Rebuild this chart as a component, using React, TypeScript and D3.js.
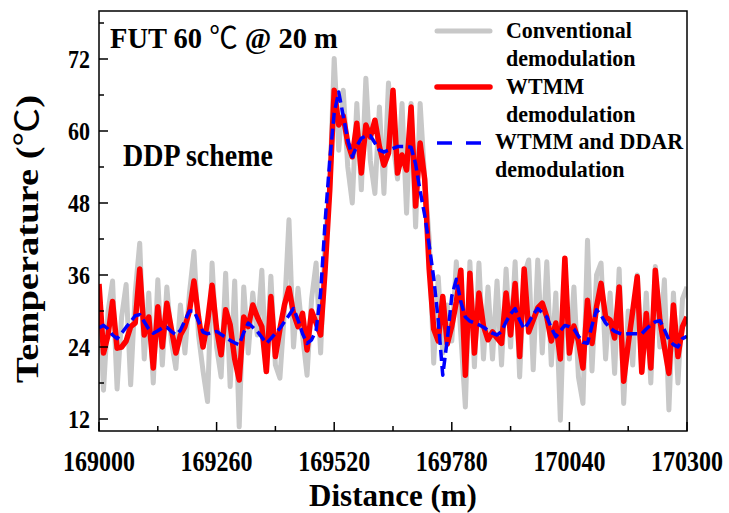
import React from 'react';
import * as d3 from 'd3';

// sampling grid of the distributed sensor trace
const distanceStart = 169000;
const distanceStep = 10;

// conventional demodulation (grey)
const conventional = [
  33, 16.8, 30, 35, 17, 29, 34.4, 17.7, 33, 41.3,
  22, 33, 18, 35.2, 21, 34, 25, 20.4, 31, 23,
  33, 39.9, 26, 20, 14.9, 38, 24, 19, 36.3, 17.4,
  35, 10.7, 34, 23, 33, 26, 36.8, 19.9, 35.8, 21,
  18.8, 30, 45.2, 24, 33.8, 26, 19.3, 32, 38, 23,
  42, 50, 72.1, 56.8, 66.8, 54, 48, 64.6, 50.2, 68.8,
  55, 49.6, 64, 49.6, 68, 58, 52, 64.6, 46.3, 64.6,
  44, 64.6, 52, 42, 21.3, 35.7, 23, 31, 25, 38.2,
  26, 14, 38.2, 20.7, 38, 22, 34, 22, 35, 21,
  37, 24, 38.2, 19, 36, 38.5, 20.2, 38.5, 23, 38.2,
  21, 33, 11.8, 36, 22, 34, 19, 14.6, 41.8, 20,
  36, 38, 22, 33, 19.6, 37, 14.6, 30, 21, 36,
  20, 33, 18, 37.4, 24, 35.2, 13.5, 33, 18, 32, 34,
];

// WTMM demodulation (red)
const wtmm = [
  34.5, 23, 26, 31.6, 23.8, 24, 25, 27.4, 28, 37,
  26, 29, 20.5, 30.7, 24, 31.3, 27, 23, 26, 27.4,
  30, 35, 29, 24, 28.2, 34.3, 27, 22.7, 30.2, 27.7,
  22, 18.5, 29, 27.4, 31, 29, 27.4, 19.9, 32.4, 22.4,
  27, 31, 33.8, 29.6, 27.4, 29.6, 23.5, 30, 28, 26,
  37, 50, 66.8, 61, 62.5, 58, 55.7, 61.3, 53, 61,
  59, 61.8, 57.4, 54.3, 56.3, 66.8, 53, 56, 53.5, 64,
  47.5, 58, 52, 37, 27, 25, 32.4, 24.5, 27.5, 31.5,
  36.8, 19.3, 36.3, 23, 33, 27.5, 25.2, 26.5, 25.5, 24.6,
  33, 26, 34.6, 22.4, 37, 26.5, 28.5, 30.5, 31.3, 29,
  25, 28, 22, 38.8, 23, 27.5, 25, 20.5, 31.8, 24.6,
  30.7, 34.6, 29, 28.5, 25.5, 34, 18.3, 24.5, 30, 35.7,
  19.8, 29.6, 20.5, 36.8, 28.5, 24, 19.6, 31, 22.4, 27.4, 29,
];

// WTMM and DDAR demodulation (blue dashed)
const wtmmDdar = [
  27.2, 27.6, 27, 26, 25.4, 26.3, 27.3, 28.2, 29.2, 29.4,
  28.2, 27, 26.3, 26.7, 27.2, 27.3, 26.6, 26, 26.8, 28.4,
  30, 30, 28.3, 26.5, 26.2, 26.4, 26.6, 26.1, 25.6, 25.1,
  24.7, 24.4, 26.4, 28, 27.3, 26.6, 25.6, 24.6, 25.4, 26.3,
  27.1, 28.2, 29.3, 30.4, 28.5, 26.2, 24.6, 25.2, 26.8, 33,
  45, 55, 63, 66.5, 62.5, 58.5, 55.7, 57.5, 58.8, 59.2,
  59.2, 58, 56.8, 56.5, 56.8, 57.1, 57.4, 57.4, 57.4, 57.3,
  54.5, 50, 46, 41, 35.5, 28.5, 19.3, 25.2, 32.5, 35.3,
  31.5, 29, 28.3, 28, 27.7, 27.3, 26.8, 26.3, 26, 26.6,
  28.2, 29.5, 30.4, 28.5, 27, 28.1, 29.4, 30.4, 29.7, 29,
  27.2, 25.7, 26.7, 27.6, 27.4, 27, 25.8, 24.8, 24.6, 27.6,
  30.2, 29.3, 28, 27.2, 26.6, 26.3, 26.1, 26.2, 26.2, 26.2,
  26.2, 27, 27.7, 28.2, 28.4, 26.9, 25.2, 24.4, 24, 25.4, 25.8,
];

const xMajorTicks = [169000, 169260, 169520, 169780, 170040, 170300];
const xMinorTicks = [169130, 169390, 169650, 169910, 170170];
const yMajorTicks = [12, 24, 36, 48, 60, 72];
const yMinorTicks = [18, 30, 42, 54, 66, 78];

const serif = "'Liberation Serif', 'Times New Roman', Times, serif";
const degFont = "'Noto Sans CJK SC', 'DejaVu Sans', sans-serif";

// the original figure's lettering is a little taller than it is wide
const stretch = (x: number, y: number, k = 1.2) => `translate(${x},${y}) scale(1,${k})`;

export default function App() {
  const left = 99, right = 687, top = 11, bottom = 431;

  const x = d3.scaleLinear().domain([169000, 170300]).range([left, right]);
  const y = d3.scaleLinear().domain([10, 80]).range([bottom, top]);

  const line = d3.line<number>()
    .x((_, i) => x(distanceStart + i * distanceStep))
    .y(d => y(d));

  return (
    <svg width={729} height={513} style={{ position: 'absolute', left: 0, top: 0, background: '#fff' }}
      fontFamily={serif} fontWeight="bold">
      <defs>
        <clipPath id="plot-clip">
          <rect x={left} y={top} width={right - left} height={bottom - top} />
        </clipPath>
      </defs>

      <g clipPath="url(#plot-clip)" fill="none" strokeLinejoin="round">
        <path d={line(conventional) || ''} stroke="#c8c8c8" strokeWidth={5} />
        <path d={line(wtmm) || ''} stroke="#ff0000" strokeWidth={5.5} />
        <path d={line(wtmmDdar) || ''} stroke="#0000ff" strokeWidth={3.5} strokeDasharray="11 5" />
      </g>

      {/* frame */}
      <rect x={left} y={top} width={right - left} height={bottom - top} fill="none" stroke="#000" strokeWidth={1.5} />

      {/* ticks point inward */}
      {xMajorTicks.map(t => (
        <line key={'xM' + t} x1={x(t)} x2={x(t)} y1={bottom} y2={bottom - 9} stroke="#000" strokeWidth={1.5} />
      ))}
      {xMinorTicks.map(t => (
        <line key={'xm' + t} x1={x(t)} x2={x(t)} y1={bottom} y2={bottom - 5} stroke="#000" strokeWidth={1.5} />
      ))}
      {yMajorTicks.map(t => (
        <line key={'yM' + t} x1={left} x2={left + 9} y1={y(t)} y2={y(t)} stroke="#000" strokeWidth={1.5} />
      ))}
      {yMinorTicks.map(t => (
        <line key={'ym' + t} x1={left} x2={left + 5} y1={y(t)} y2={y(t)} stroke="#000" strokeWidth={1.5} />
      ))}

      {xMajorTicks.map(t => (
        <text key={'xl' + t} transform={stretch(x(t), 471)} fontSize={24} textAnchor="middle">{t}</text>
      ))}
      {yMajorTicks.map(t => (
        <text key={'yl' + t} transform={stretch(90, y(t) + 9, 1.15)} fontSize={22} textAnchor="end">{t}</text>
      ))}

      <text x={393} y={506} fontSize={31} textAnchor="middle">Distance (m)</text>
      <text transform="translate(38,239) rotate(-90)" fontSize={32} textAnchor="middle"
        textLength={288} lengthAdjust="spacingAndGlyphs">
        Temperature (<tspan fontFamily={degFont} fontWeight="normal">℃</tspan>)
      </text>

      <text transform={stretch(110, 48, 1.05)} fontSize={28.5}>
        FUT 60 <tspan fontFamily={degFont} fontWeight="normal">℃</tspan> @ 20 m
      </text>
      <text transform={stretch(123, 166, 1.1)} fontSize={28}>DDP scheme</text>

      {/* legend */}
      <g fontSize={22}>
        <line x1={437} x2={490} y1={31} y2={31} stroke="#c8c8c8" strokeWidth={5} strokeLinecap="round" />
        <text transform={stretch(506, 38, 1.08)}>Conventional</text>
        <text transform={stretch(506, 66, 1.08)}>demodulation</text>
        <line x1={437} x2={490} y1={87} y2={87} stroke="#ff0000" strokeWidth={5.5} strokeLinecap="round" />
        <text transform={stretch(506, 94, 1.08)}>WTMM</text>
        <text transform={stretch(506, 122, 1.08)}>demodulation</text>
        <line x1={437} x2={482} y1={143} y2={143} stroke="#0000ff" strokeWidth={3.5} strokeDasharray="15 14" />
        <text transform={stretch(495, 149, 1.08)}>WTMM and DDAR</text>
        <text transform={stretch(495, 177, 1.08)}>demodulation</text>
      </g>
    </svg>
  );
}
